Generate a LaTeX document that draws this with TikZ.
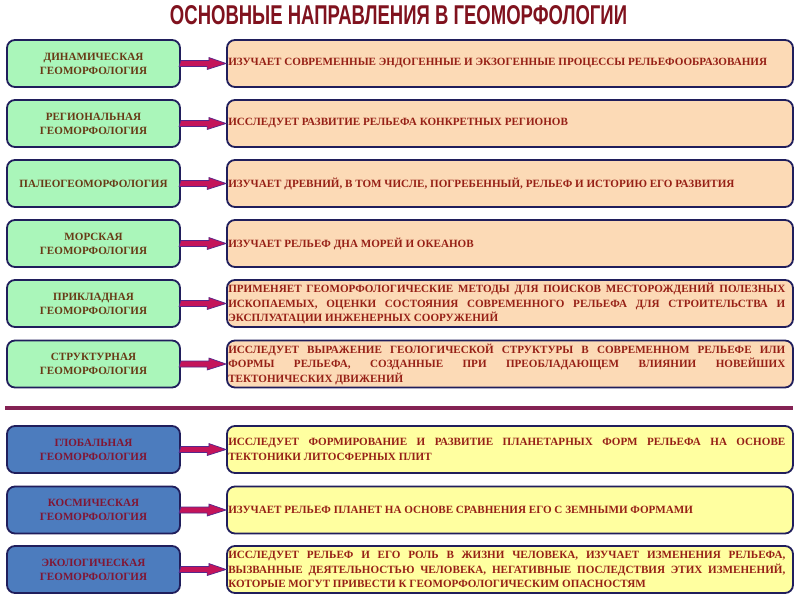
\documentclass[tikz,border=0pt]{standalone}
\usepackage{fontspec}
\setmainfont{Liberation Serif}
\newfontfamily\titlefont{Liberation Sans}
\usetikzlibrary{positioning}
\definecolor{titlered}{RGB}{128,18,30}
\definecolor{greenfill}{RGB}{170,246,186}
\definecolor{peachfill}{RGB}{252,218,182}
\definecolor{yellowfill}{RGB}{255,255,160}
\definecolor{bluefill}{RGB}{76,124,190}
\definecolor{boxline}{RGB}{32,30,92}
\definecolor{lefttext}{RGB}{104,58,22}
\definecolor{bluetext}{RGB}{128,22,52}
\definecolor{righttext}{RGB}{150,32,22}
\definecolor{arrowfill}{RGB}{196,20,90}
\definecolor{arrowline}{RGB}{84,40,140}
\definecolor{sepline}{RGB}{132,34,84}
\tikzset{
  x=1pt,y=-1pt,
  leftbox/.style={draw=boxline,line width=1.8pt,rounded corners=8pt,fill=greenfill,
    minimum width=173pt,minimum height=47pt,inner sep=0pt,align=center,
    font=\bfseries\fontsize{11.1}{14}\selectfont,text=lefttext},
  bluebox/.style={leftbox,fill=bluefill,text=bluetext},
  rightbox/.style={draw=boxline,line width=1.8pt,rounded corners=8pt,fill=peachfill,
    minimum width=566pt,minimum height=47pt,inner sep=0pt},
  ybox/.style={rightbox,fill=yellowfill},
  desc/.style={anchor=west,inner sep=0pt,text width=557pt,align=justify,
    font=\bfseries\fontsize{11.1}{14.5}\selectfont,text=righttext},
  conn/.style={draw=arrowline,line width=0.7pt,fill=arrowfill,line join=miter}
}
\newcommand{\rowpair}[6]{%
  \node[#1] (L#6) at (93.5,#3) {#4};
  \node[#2] (R#6) at (510,#3) {};
  \node[desc] (T#6) at ([xshift=2pt]R#6.west) {#5};
  \path[conn] (L#6.east) ++(0,-3) -- ++(28,0) -- ++(0,-3) -- (R#6.west) -- ++(-19,6) -- ++(0,-3) -- ++(-28,0) -- cycle;
}
\begin{document}
\begin{tikzpicture}
\useasboundingbox (0,0) rectangle (800,600);
\fill[white] (0,0) rectangle (800,600);
\node[inner sep=0pt,text=titlered] (title) at (398.5,15.5)
  {\resizebox{457pt}{19pt}{\titlefont\bfseries ОСНОВНЫЕ НАПРАВЛЕНИЯ В ГЕОМОРФОЛОГИИ}};
\rowpair{leftbox}{rightbox}{63.5}{ДИНАМИЧЕСКАЯ\\ГЕОМОРФОЛОГИЯ}{ИЗУЧАЕТ СОВРЕМЕННЫЕ ЭНДОГЕННЫЕ И ЭКЗОГЕННЫЕ ПРОЦЕССЫ РЕЛЬЕФООБРАЗОВАНИЯ}{1}
\rowpair{leftbox}{rightbox}{123.5}{РЕГИОНАЛЬНАЯ\\ГЕОМОРФОЛОГИЯ}{ИССЛЕДУЕТ РАЗВИТИЕ РЕЛЬЕФА КОНКРЕТНЫХ РЕГИОНОВ}{2}
\rowpair{leftbox}{rightbox}{183.5}{ПАЛЕОГЕОМОРФОЛОГИЯ}{ИЗУЧАЕТ ДРЕВНИЙ, В ТОМ ЧИСЛЕ, ПОГРЕБЕННЫЙ, РЕЛЬЕФ И ИСТОРИЮ ЕГО РАЗВИТИЯ}{3}
\rowpair{leftbox}{rightbox}{243.5}{МОРСКАЯ\\ГЕОМОРФОЛОГИЯ}{ИЗУЧАЕТ РЕЛЬЕФ ДНА МОРЕЙ И ОКЕАНОВ}{4}
\rowpair{leftbox}{rightbox}{303.5}{ПРИКЛАДНАЯ\\ГЕОМОРФОЛОГИЯ}{ПРИМЕНЯЕТ ГЕОМОРФОЛОГИЧЕСКИЕ МЕТОДЫ ДЛЯ ПОИСКОВ МЕСТОРОЖДЕНИЙ ПОЛЕЗНЫХ\linebreak ИСКОПАЕМЫХ, ОЦЕНКИ СОСТОЯНИЯ СОВРЕМЕННОГО РЕЛЬЕФА ДЛЯ СТРОИТЕЛЬСТВА И\linebreak ЭКСПЛУАТАЦИИ ИНЖЕНЕРНЫХ СООРУЖЕНИЙ}{5}
\rowpair{leftbox}{rightbox}{364}{СТРУКТУРНАЯ\\ГЕОМОРФОЛОГИЯ}{ИССЛЕДУЕТ ВЫРАЖЕНИЕ ГЕОЛОГИЧЕСКОЙ СТРУКТУРЫ В СОВРЕМЕННОМ РЕЛЬЕФЕ ИЛИ\linebreak ФОРМЫ РЕЛЬЕФА, СОЗДАННЫЕ ПРИ ПРЕОБЛАДАЮЩЕМ ВЛИЯНИИ НОВЕЙШИХ\linebreak ТЕКТОНИЧЕСКИХ ДВИЖЕНИЙ}{6}
\coordinate (sepA) at (5,408);
\coordinate (sepB) at (793,408);
\draw[sepline,line width=3.5pt] (sepA) -- (sepB);
\rowpair{bluebox}{ybox}{449.5}{ГЛОБАЛЬНАЯ\\ГЕОМОРФОЛОГИЯ}{ИССЛЕДУЕТ ФОРМИРОВАНИЕ И РАЗВИТИЕ ПЛАНЕТАРНЫХ ФОРМ РЕЛЬЕФА НА ОСНОВЕ\linebreak ТЕКТОНИКИ ЛИТОСФЕРНЫХ ПЛИТ}{7}
\rowpair{bluebox}{ybox}{510}{КОСМИЧЕСКАЯ\\ГЕОМОРФОЛОГИЯ}{ИЗУЧАЕТ РЕЛЬЕФ ПЛАНЕТ НА ОСНОВЕ СРАВНЕНИЯ ЕГО С ЗЕМНЫМИ ФОРМАМИ}{8}
\rowpair{bluebox}{ybox}{569.5}{ЭКОЛОГИЧЕСКАЯ\\ГЕОМОРФОЛОГИЯ}{ИССЛЕДУЕТ РЕЛЬЕФ И ЕГО РОЛЬ В ЖИЗНИ ЧЕЛОВЕКА, ИЗУЧАЕТ ИЗМЕНЕНИЯ РЕЛЬЕФА,\linebreak ВЫЗВАННЫЕ ДЕЯТЕЛЬНОСТЬЮ ЧЕЛОВЕКА, НЕГАТИВНЫЕ ПОСЛЕДСТВИЯ ЭТИХ ИЗМЕНЕНИЙ,\linebreak КОТОРЫЕ МОГУТ ПРИВЕСТИ К ГЕОМОРФОЛОГИЧЕСКИМ ОПАСНОСТЯМ}{9}
\end{tikzpicture}
\end{document}
